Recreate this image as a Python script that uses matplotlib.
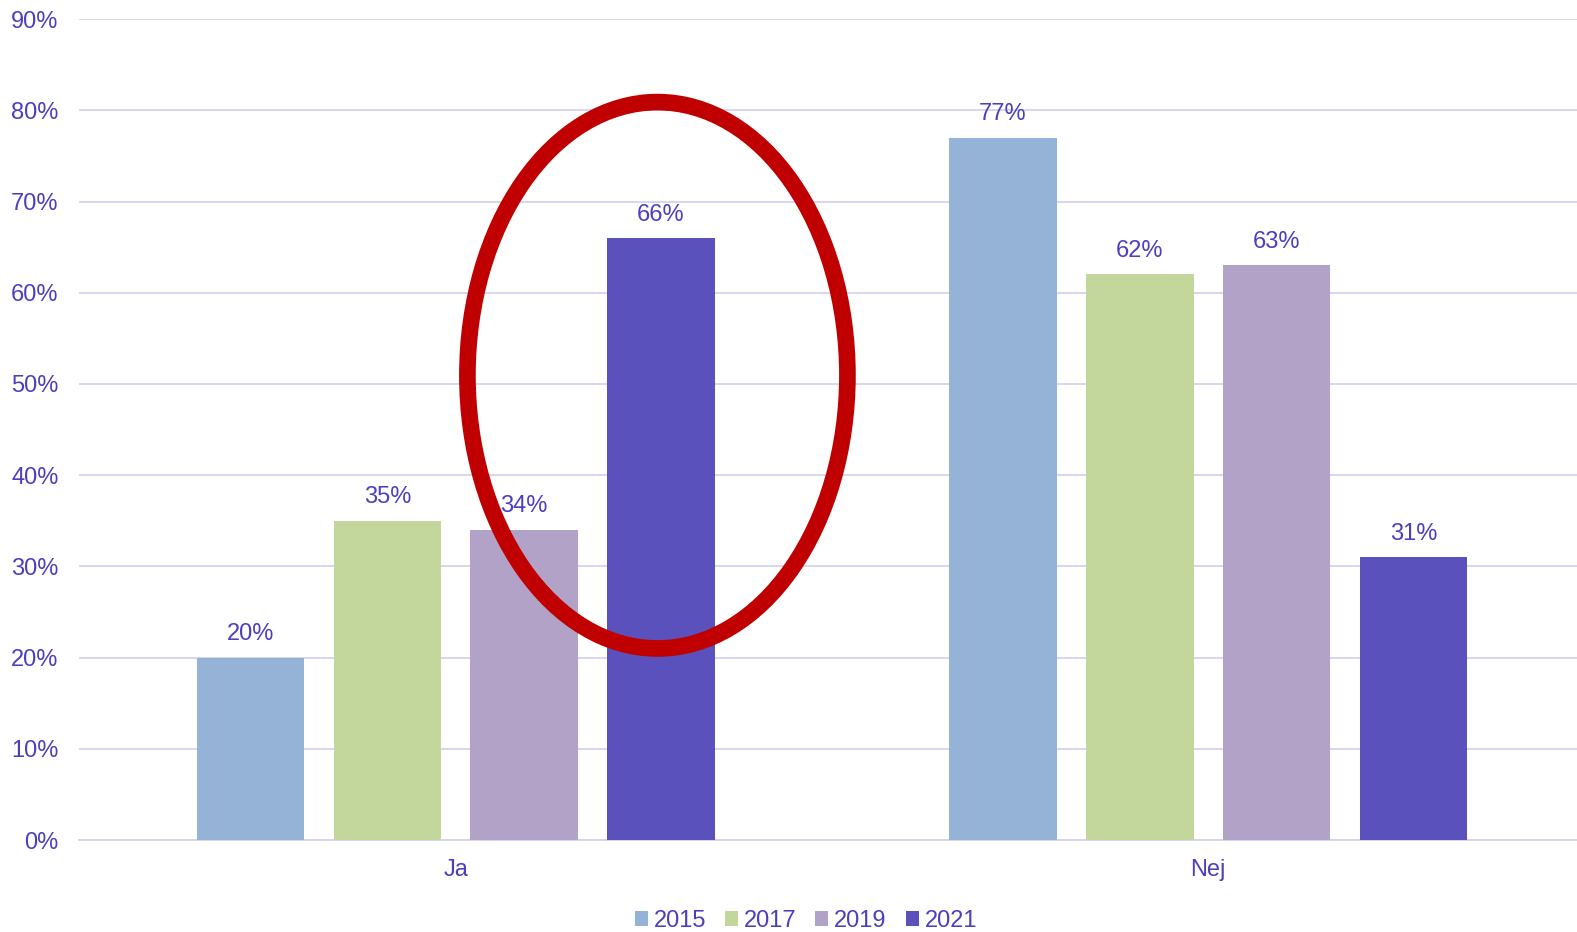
import numpy as np
import matplotlib
matplotlib.use("Agg")
import matplotlib.pyplot as plt
from matplotlib.patches import Ellipse

categories = ["Ja", "Nej"]
years = ["2015", "2017", "2019", "2021"]
values = {
    "2015": [20, 77],
    "2017": [35, 62],
    "2019": [34, 63],
    "2021": [66, 31],
}
colors = ["#95B3D7", "#C3D69B", "#B2A2C7", "#5B51BD"]
text_color = "#4B3FBF"
grid_color = "#D6D2F0"

plt.rcParams["font.family"] = ["Liberation Sans", "DejaVu Sans"]

fig = plt.figure(figsize=(15.77, 9.32), dpi=100)
ax = fig.add_axes([0.0504, 0.0987, 0.9496, 0.8808])

x = np.arange(len(categories))
width = 0.143
step = 0.1818
for i, yr in enumerate(years):
    pos = x + (i - 1.5) * step
    bars = ax.bar(pos, values[yr], width, color=colors[i], label=yr, zorder=3)
    for b, v in zip(bars, values[yr]):
        ax.annotate(f"{v}%", (b.get_x() + b.get_width() / 2, v),
                    xytext=(0, 9), textcoords="offset points",
                    ha="center", va="bottom", fontsize=17, color=text_color, zorder=5)

ax.set_xlim(-0.5, 1.49)
ax.set_ylim(0, 90)
ax.set_yticks(np.arange(0, 91, 10))
ax.set_yticklabels([f"{t}%" for t in range(0, 91, 10)])
ax.set_xticks(x)
ax.set_xticklabels(categories)
ax.tick_params(axis="both", length=0, labelsize=17, labelcolor=text_color)
ax.tick_params(axis="y", pad=15)
ax.tick_params(axis="x", pad=14)
ax.grid(axis="y", color=grid_color, linewidth=1.3, zorder=0)
for s in ["top", "right", "left"]:
    ax.spines[s].set_visible(False)
ax.spines["bottom"].set_color(grid_color)
ax.spines["bottom"].set_linewidth(1.3)

# red highlight ring around Ja 2021
ax.add_patch(Ellipse((0.268, 50.95), 0.505, 59.9, fill=False,
                     edgecolor="#C00000", linewidth=12, zorder=6, clip_on=False))

fig.legend(loc="center", bbox_to_anchor=(0.511, 0.012), ncol=4, frameon=False,
           fontsize=17, labelcolor=text_color, handlelength=0.55, handleheight=0.55,
           handletextpad=0.25, columnspacing=0.8)

fig.savefig("out.png", dpi=100)
